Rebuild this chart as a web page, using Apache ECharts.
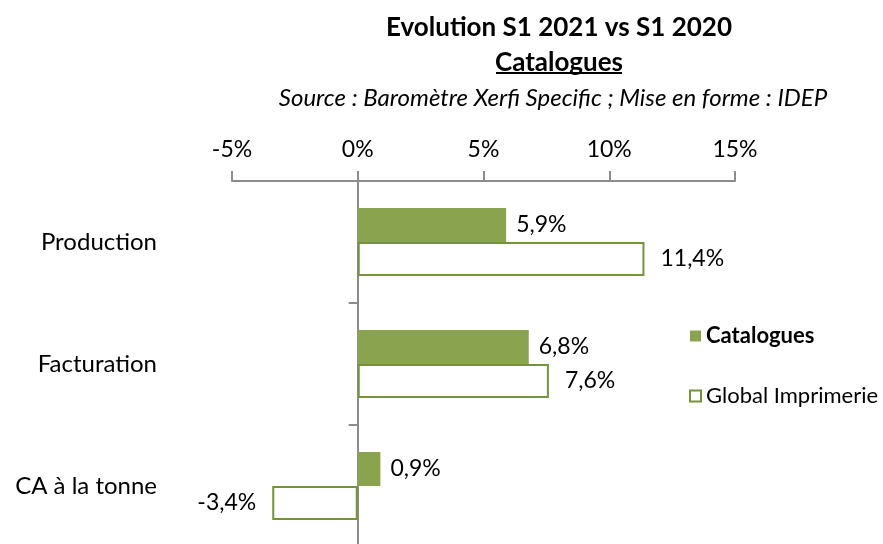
<!DOCTYPE html>
<html lang="fr">
  <head>
    <meta charset="UTF-8" />
    <title>Evolution S1 2021 vs S1 2020</title>
    <script src="https://cdn.jsdelivr.net/npm/echarts@6/dist/echarts.min.js"></script>
    <style>
      html, body { margin: 0; padding: 0; background: #fff; }
      #chart { width: 883px; height: 544px; }
    </style>
  </head>
  <body>
    <div id="chart"></div>
    <script>
      const categories = ['Production', 'Facturation', 'CA à la tonne']
      const catalogues = [5.9, 6.8, 0.9]
      const globalImprimerie = [11.4, 7.6, -3.4]
      const seriesNames = ['Catalogues', 'Global Imprimerie']

      const font = 'Lato, "Open Sans", sans-serif'
      const green = '#8AA34E'
      const greenDark = '#76933C'

      const fmt = v => String(v).replace('.', ',') + '%'
      const toData = (values, dist) =>
        values.map(v => ({
          value: v,
          label: { position: v < 0 ? 'left' : 'right', distance: dist }
        }))

      const chart = echarts.init(document.getElementById('chart'))
      chart.setOption({
        animation: false,
        title: [
          {
            text: 'Evolution S1 2021 vs S1 2020',
            left: 554, top: 10, textAlign: 'center',
            textStyle: { fontFamily: font, fontSize: 26, fontWeight: 'bold', color: '#000' }
          },
          {
            text: 'Catalogues',
            left: 554, top: 45, textAlign: 'center',
            textStyle: { fontFamily: font, fontSize: 26, fontWeight: 'bold', color: '#000' }
          },
          {
            text: 'Source : Baromètre Xerfi Specific ; Mise en forme : IDEP',
            left: 548, top: 81, textAlign: 'center',
            textStyle: { fontFamily: font, fontSize: 24, fontStyle: 'italic', fontWeight: 'normal', color: '#000' }
          }
        ],
        graphic: [
          {
            type: 'line',
            shape: { x1: 496, y1: 73, x2: 622, y2: 73 },
            style: { stroke: '#000', lineWidth: 2 }
          }
        ],
        legend: {
          orient: 'vertical',
          left: 684, top: 320,
          itemWidth: 11, itemHeight: 11,
          itemGap: 38,
          icon: 'rect',
          textStyle: { fontFamily: font, fontSize: 22, color: '#000' },
          data: [
            { name: seriesNames[0], textStyle: { fontWeight: 'bold' } },
            { name: seriesNames[1] }
          ]
        },
        grid: { left: 232, right: 148, top: 181, height: 366, outerBoundsMode: 'none', containLabel: false },
        xAxis: {
          type: 'value',
          position: 'top',
          min: -5, max: 15, interval: 5,
          axisLine: { show: true, lineStyle: { color: '#8c8c8c', width: 2 } },
          axisTick: { show: true, length: 10, lineStyle: { color: '#8c8c8c', width: 2 } },
          splitLine: { show: false },
          axisLabel: {
            margin: 20,
            formatter: '{value}%',
            fontFamily: font, fontSize: 23, color: '#000'
          }
        },
        yAxis: {
          type: 'category',
          data: categories,
          inverse: true,
          axisLine: { onZero: true, lineStyle: { color: '#8c8c8c', width: 2 } },
          axisTick: { show: true, length: 9, lineStyle: { color: '#8c8c8c', width: 2 } },
          axisLabel: {
            margin: 75,
            fontFamily: font, fontSize: 24, color: '#000'
          }
        },
        series: [
          {
            name: seriesNames[0],
            type: 'bar',
            barWidth: 34,
            barGap: '0%',
            itemStyle: { color: green },
            label: {
              show: true,
              formatter: p => fmt(p.value),
              fontFamily: font, fontSize: 23, color: '#000'
            },
            data: toData(catalogues, 10)
          },
          {
            name: seriesNames[1],
            type: 'bar',
            barWidth: 34,
            barGap: '0%',
            itemStyle: { color: '#fff', borderColor: greenDark, borderWidth: 2 },
            label: {
              show: true,
              formatter: p => fmt(p.value),
              fontFamily: font, fontSize: 23, color: '#000'
            },
            data: toData(globalImprimerie, 16)
          }
        ]
      })
    </script>
  </body>
</html>
